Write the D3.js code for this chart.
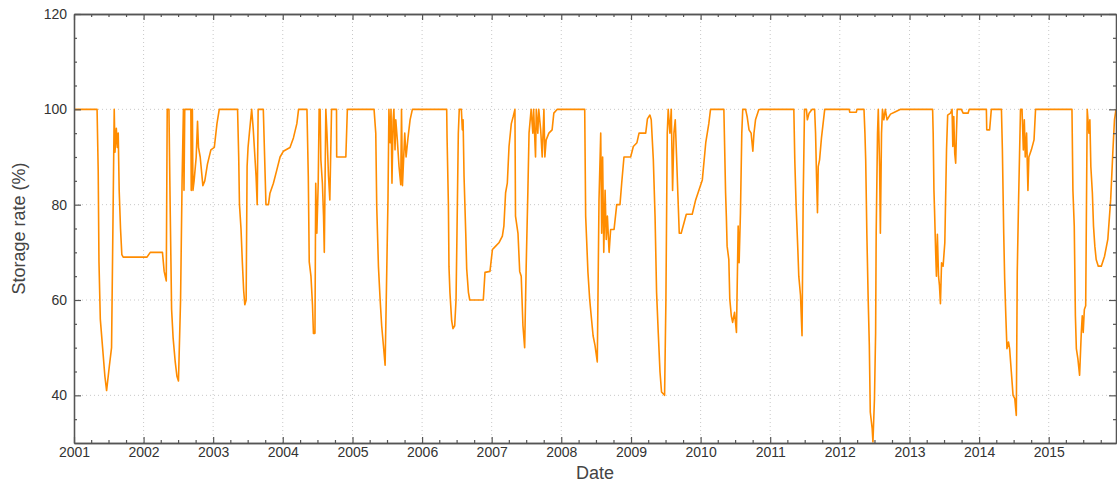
<!DOCTYPE html>
<html>
<head>
<meta charset="utf-8">
<script src="https://cdn.jsdelivr.net/npm/d3@7"></script>
<style>
  html, body { margin: 0; padding: 0; background: #fff; }
  svg { display: block; font-family: "Liberation Sans", Arial, sans-serif; }
</style>
</head>
<body>
<script>
// storage rate series
const dates = [
  "2001-01-01","2001-05-02","2001-05-08","2001-05-12","2001-05-19","2001-05-31","2001-06-12","2001-06-21",
  "2001-07-05","2001-07-17","2001-07-26","2001-07-31","2001-08-04","2001-08-11","2001-08-16","2001-08-21",
  "2001-08-26","2001-09-02","2001-09-09","2001-09-16","2002-01-19","2002-02-05","2002-04-10","2002-04-19",
  "2002-04-30","2002-05-05","2002-05-14","2002-05-21","2002-05-28","2002-06-05","2002-06-16","2002-06-25",
  "2002-07-03","2002-07-14","2002-07-22","2002-07-29","2002-08-01","2002-08-05","2002-09-06","2002-09-08",
  "2002-09-14","2002-09-17","2002-09-23","2002-10-04","2002-10-11","2002-10-16","2002-10-25","2002-11-08",
  "2002-11-18","2002-12-02","2002-12-20","2003-01-07","2003-01-21","2003-02-02","2003-05-09","2003-05-15",
  "2003-05-19","2003-05-27","2003-06-03","2003-06-10","2003-06-16","2003-06-23","2003-06-28","2003-07-03",
  "2003-07-10","2003-07-22","2003-07-30","2003-08-14","2003-08-20","2003-08-25","2003-09-21","2003-10-05",
  "2003-10-18","2003-10-26","2003-11-13","2003-12-01","2003-12-18","2004-01-04","2004-02-08","2004-02-26",
  "2004-03-15","2004-03-24",
  "2004-05-07","2004-05-14","2004-05-19","2004-05-28","2004-06-05","2004-06-10","2004-06-18","2004-06-22",
  "2004-06-28","2004-07-05","2004-07-10","2004-07-15","2004-07-19","2004-07-27","2004-08-02","2004-08-06",
  "2004-08-14","2004-08-20","2004-08-28","2004-09-04","2004-09-13","2004-10-09","2004-10-10","2004-11-27",
  "2004-12-05",
  "2005-04-24","2005-05-03","2005-05-08","2005-05-17","2005-05-26","2005-06-03","2005-06-12","2005-06-21",
  "2005-06-27","2005-07-06","2005-07-11","2005-07-17","2005-07-22","2005-07-27","2005-08-02","2005-08-06",
  "2005-08-12","2005-08-16","2005-08-24","2005-09-02","2005-09-11","2005-09-15","2005-09-20","2005-10-02",
  "2005-10-09","2005-10-19","2005-10-30","2005-11-11",
  "2006-05-10","2006-05-12","2006-05-19","2006-05-22","2006-05-27","2006-06-05","2006-06-12","2006-06-21",
  "2006-06-28","2006-07-03","2006-07-10","2006-07-15","2006-07-26","2006-07-31","2006-08-04","2006-08-09",
  "2006-08-18","2006-08-23","2006-09-01","2006-09-08","2006-11-18","2006-11-27","2006-12-23","2007-01-05",
  "2007-01-22","2007-02-08","2007-02-26","2007-03-06","2007-03-15","2007-03-24","2007-04-02","2007-04-14",
  "2007-04-24","2007-05-03","2007-05-06","2007-05-19","2007-05-28","2007-06-05","2007-06-14","2007-06-23",
  "2007-07-01","2007-07-10","2007-07-16","2007-07-27","2007-08-05","2007-08-09","2007-08-19","2007-08-23",
  "2007-08-31","2007-09-05","2007-09-15","2007-09-23","2007-10-02","2007-10-07","2007-10-14","2007-10-28",
  "2007-11-14","2007-11-23","2007-12-11",
  "2008-05-03","2008-05-08","2008-05-13","2008-05-20","2008-05-29","2008-06-06","2008-06-16","2008-06-26",
  "2008-07-08","2008-07-17","2008-07-26","2008-07-31","2008-08-05","2008-08-11","2008-08-18","2008-08-24",
  "2008-08-30","2008-09-08","2008-09-16","2008-10-04","2008-10-18","2008-11-04","2008-11-13","2008-11-25",
  "2008-12-30","2009-01-13","2009-02-01","2009-02-12","2009-03-19","2009-03-28","2009-04-10","2009-04-17",
  "2009-04-28","2009-05-07","2009-05-15","2009-05-24","2009-06-02","2009-06-10","2009-06-26","2009-07-03",
  "2009-07-10","2009-07-15","2009-07-24","2009-07-31","2009-08-07","2009-08-14","2009-08-21","2009-08-28",
  "2009-09-04","2009-09-11","2009-09-21","2009-10-06","2009-10-18","2009-11-18","2009-12-06","2009-12-23",
  "2010-01-10","2010-01-28","2010-02-13","2010-02-22",
  "2010-05-03","2010-05-12","2010-05-16","2010-05-20","2010-05-29","2010-06-03","2010-06-11","2010-06-18",
  "2010-06-28","2010-07-08","2010-07-17","2010-07-22","2010-07-29","2010-08-05","2010-08-10","2010-08-25",
  "2010-09-02","2010-09-12","2010-09-23","2010-10-02","2010-10-08","2010-10-16","2010-11-02","2010-11-12",
  "2011-05-05","2011-05-10","2011-05-17","2011-05-26","2011-05-31","2011-06-09","2011-06-17","2011-06-23",
  "2011-06-30","2011-07-10","2011-07-15","2011-07-24","2011-08-09","2011-08-22","2011-08-27","2011-09-01",
  "2011-09-06","2011-09-10","2011-09-17","2011-09-27","2011-10-14",
  "2012-02-20","2012-02-22","2012-03-28","2012-03-31",
  "2012-05-07","2012-05-12","2012-05-16","2012-05-22","2012-05-29","2012-06-04","2012-06-09","2012-06-19",
  "2012-06-23","2012-07-01","2012-07-07","2012-07-10","2012-07-17","2012-07-21","2012-07-28","2012-08-01",
  "2012-08-07","2012-08-12","2012-08-19","2012-08-27","2012-09-05","2012-09-23","2012-10-19","2012-11-15",
  "2013-05-02","2013-05-05","2013-05-09","2013-05-12","2013-05-18","2013-05-22","2013-05-27","2013-06-02",
  "2013-06-07","2013-06-12","2013-06-18","2013-06-26","2013-07-05","2013-07-14","2013-07-20","2013-08-04",
  "2013-08-12","2013-08-16","2013-08-21","2013-08-26","2013-08-31","2013-09-04","2013-09-08","2013-09-30",
  "2013-10-09","2013-11-04","2013-11-10",
  "2014-02-08","2014-02-10","2014-02-25","2014-03-06","2014-04-28","2014-05-03","2014-05-10","2014-05-15",
  "2014-05-21","2014-05-27","2014-06-04","2014-06-10","2014-06-19","2014-06-28","2014-07-07","2014-07-15",
  "2014-07-20","2014-07-27","2014-08-06","2014-08-14","2014-08-21","2014-08-26","2014-08-31","2014-09-07",
  "2014-09-14","2014-09-19","2014-10-02","2014-10-16","2014-10-24",
  "2015-05-03","2015-05-08","2015-05-15","2015-05-21","2015-05-26","2015-06-03","2015-06-12","2015-06-21",
  "2015-06-26","2015-07-01","2015-07-07","2015-07-14","2015-07-22","2015-07-31","2015-08-05","2015-08-10",
  "2015-08-18","2015-08-24","2015-08-31","2015-09-07","2015-09-18","2015-10-04","2015-10-21","2015-11-07",
  "2015-11-22","2015-12-04","2015-12-12","2015-12-20"
];

const rates = [
  100,100,87,68,56,50,44,41,
  46,50,82,100,91,96,92,95,
  83,75,69.5,69,69,70,70,66,
  64,100,100,78,58,52,47,44,
  43,60,85,100,83,100,100,83,
  100,83,85,90,97.5,92,90,84,
  85,88.5,91.5,92,97,100,100,90,
  80,75,68,62,59,60,88,92,
  95,100,96,86,80,100,100,80,
  80,82.4,84.5,87.3,90,91.2,92,94,
  97,100,
  100,86,68,65,59,53,53,84.5,
  74,84.5,100,100,89.4,84.5,77.6,70,
  100,95,86,81,100,100,90,90,
  100,
  100,95,79.7,67,60,54.6,50.5,46.3,
  60,81,100,93,100,84.5,97.8,100,
  91.5,97.8,93.6,88,84.2,100,84,95,
  90,94,97.8,100,
  100,94,80,67,61.6,55.7,54,54.6,
  60,74,95,100,100,95.7,97.8,86,
  74,66.5,61.6,60,60,65.8,66,70.6,
  71.3,72,73.4,75.5,82.5,84.5,92.2,97,
  98.5,100,77.6,74,66,65,54.6,50,
  67,83,95,100,95,100,90,100,
  95,100,95.7,90,100,90,93.6,95,
  95.7,99.2,100,
  100,77.6,72.7,65.8,60.2,56.7,52.5,50.5,
  47,81,95,74,90,70,83,72.7,
  77.6,70,74.8,74.8,80,80,84.5,90,
  90,92.2,93,95,95,98,98.8,97.8,
  89.4,77.6,61.6,53,44.9,40.7,40,60,
  95,100,95,100,83,95,97.8,90,
  81.8,74,74,76.2,78,78,81,83,
  85.2,93,97,100,
  100,82.5,77.6,71.3,68.5,60.2,56.7,55.3,
  57.4,53.2,75.5,67.8,78.3,95,100,100,
  98.5,95.7,95,91.2,95,97.8,99.9,100,
  100,89.4,79.7,70.6,65,61,52.5,81,
  100,100,97.8,99.2,100,100,95,86,
  78.3,88,89.4,94,100,
  100,99.4,99.4,100,
  100,95,89.4,74,60.2,50.5,36.5,33,
  30.2,39.3,53,74,95,100,88,74,
  95,100,97.8,100,97.8,99,99.5,100,
  100,95,83,79,70,65,73.8,65,
  63,59.2,67.8,67.1,72,91.5,98.8,99.2,
  100,92.2,98.5,90.8,88.7,95,100,100,
  99.2,99.2,100,
  100,95.7,95.7,100,100,91.5,74,64.4,
  56.7,49.8,51.2,49.8,44.9,40,39.3,35.8,
  65.8,81,100,100,91.5,97.8,90,95,
  83,90,91.5,93.6,100,
  100,83,75.5,56.7,49.8,47.7,44.2,53.2,
  56.7,53.2,58,58.8,100,95,97.8,88,
  82.5,75.5,71.3,68.5,67.1,67.1,69.2,72.7,
  81,91.5,97.8,100
];

const yTicks = [40, 60, 80, 100, 120];
const yMinorTicks = [35, 45, 50, 55, 65, 70, 75, 85, 90, 95, 105, 110, 115];
const yearLabels = ["2001","2002","2003","2004","2005","2006","2007","2008",
                    "2009","2010","2011","2012","2013","2014","2015"];
const xStart = "2001-01-01";
const xEnd = "2015-12-20";
const xLabel = "Date";
const yLabel = "Storage rate (%)";

const W = 1117, H = 485;
const margin = {top: 14, right: 1, bottom: 42, left: 74};
const parse = d3.timeParse("%Y-%m-%d");

const series = dates.map((d, i) => ({date: parse(d), value: rates[i]}));
const yearDates = yearLabels.map(yr => parse(yr + "-01-01"));

const svg = d3.select("body").append("svg")
  .attr("width", W)
  .attr("height", H);

const x = d3.scaleTime()
  .domain([parse(xStart), parse(xEnd)])
  .range([margin.left, W - margin.right]);

const y = d3.scaleLinear()
  .domain([30, 120])
  .range([H - margin.bottom, margin.top]);

const quarterTicks = d3.timeMonth.every(3).range(parse(xStart), parse(xEnd))
  .filter(d => d.getMonth() !== 0);

const plotBottom = y(30), plotTop = y(120);
const plotLeft = x.range()[0], plotRight = x.range()[1];

// dotted grid
const grid = svg.append("g").attr("stroke", "#c8c8c8").attr("stroke-dasharray", "1,3");
grid.selectAll(".gx").data(yearDates.slice(1)).join("line")
  .attr("x1", d => x(d)).attr("x2", d => x(d))
  .attr("y1", plotBottom).attr("y2", plotTop);
grid.selectAll(".gy").data(yTicks.slice(0, -1)).join("line")
  .attr("x1", plotLeft).attr("x2", plotRight)
  .attr("y1", d => y(d)).attr("y2", d => y(d));

// the series
svg.append("clipPath").attr("id", "plot")
  .append("rect")
  .attr("x", plotLeft).attr("y", plotTop)
  .attr("width", plotRight - plotLeft)
  .attr("height", plotBottom - plotTop);

const line = d3.line()
  .x(d => x(d.date))
  .y(d => y(d.value));

svg.append("path")
  .datum(series)
  .attr("clip-path", "url(#plot)")
  .attr("fill", "none")
  .attr("stroke", "#ff8c00")
  .attr("stroke-width", 1.6)
  .attr("stroke-linejoin", "round")
  .attr("d", line);

// frame axes, ticks pointing inwards
function styleAxis(g) {
  g.selectAll(".domain").attr("stroke", "#555").attr("stroke-width", 1.3);
  g.selectAll(".tick line").attr("stroke", "#555").attr("stroke-width", 1.2);
  g.selectAll(".tick text").attr("fill", "#333")
    .style("font-size", "14px")
    .style("font-family", "'Liberation Sans', Arial, sans-serif");
}

svg.append("g")
  .attr("transform", `translate(0,${plotBottom})`)
  .call(d3.axisBottom(x).tickValues(yearDates).tickSize(-6).tickSizeOuter(0)
    .tickPadding(4).tickFormat(d3.timeFormat("%Y")))
  .call(styleAxis);
svg.append("g")
  .attr("transform", `translate(0,${plotBottom})`)
  .call(d3.axisBottom(x).tickValues(quarterTicks).tickSize(-3).tickSizeOuter(0).tickFormat(""))
  .call(styleAxis);
svg.append("g")
  .attr("transform", `translate(0,${plotTop})`)
  .call(d3.axisTop(x).tickValues(yearDates).tickSize(-6).tickSizeOuter(0).tickFormat(""))
  .call(styleAxis);
svg.append("g")
  .attr("transform", `translate(0,${plotTop})`)
  .call(d3.axisTop(x).tickValues(quarterTicks).tickSize(-3).tickSizeOuter(0).tickFormat(""))
  .call(styleAxis);

svg.append("g")
  .attr("transform", `translate(${plotLeft},0)`)
  .call(d3.axisLeft(y).tickValues(yTicks).tickSize(-7).tickSizeOuter(0).tickPadding(7))
  .call(styleAxis);
svg.append("g")
  .attr("transform", `translate(${plotLeft},0)`)
  .call(d3.axisLeft(y).tickValues(yMinorTicks).tickSize(-3).tickSizeOuter(0).tickFormat(""))
  .call(styleAxis);
svg.append("g")
  .attr("transform", `translate(${plotRight},0)`)
  .call(d3.axisRight(y).tickValues(yTicks).tickSize(-7).tickSizeOuter(0).tickFormat(""))
  .call(styleAxis);
svg.append("g")
  .attr("transform", `translate(${plotRight},0)`)
  .call(d3.axisRight(y).tickValues(yMinorTicks).tickSize(-3).tickSizeOuter(0).tickFormat(""))
  .call(styleAxis);

// axis titles
svg.append("text")
  .attr("x", (plotLeft + plotRight) / 2)
  .attr("y", 479)
  .attr("text-anchor", "middle")
  .attr("fill", "#444")
  .style("font-size", "18px")
  .text(xLabel);

svg.append("text")
  .attr("transform", `translate(25,${(plotTop + plotBottom) / 2}) rotate(-90)`)
  .attr("text-anchor", "middle")
  .attr("fill", "#444")
  .style("font-size", "18px")
  .text(yLabel);
</script>
</body>
</html>
